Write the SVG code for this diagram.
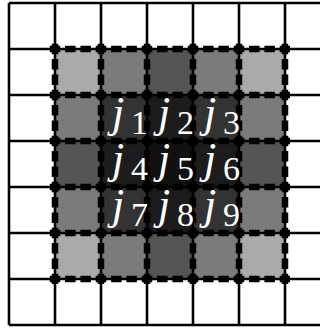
<svg xmlns="http://www.w3.org/2000/svg" width="320" height="328" viewBox="0 0 320 328">
<style>
.grid{stroke:#000;stroke-width:2.6;fill:none}
.dash{stroke:#000;stroke-width:6.5;stroke-dasharray:10.5 4.833;fill:none}
</style>
<rect width="320" height="328" fill="#fff"/>
<g id="cells">
<rect id="c00" x="55" y="49" width="46" height="46" fill="#aaa"/>
<rect id="c01" x="101" y="49" width="46" height="46" fill="#7b7b7b"/>
<rect id="c02" x="147" y="49" width="46" height="46" fill="#555"/>
<rect id="c03" x="193" y="49" width="46" height="46" fill="#7b7b7b"/>
<rect id="c04" x="239" y="49" width="46" height="46" fill="#aaa"/>
<rect id="c10" x="55" y="95" width="46" height="46" fill="#7b7b7b"/>
<rect id="c11" x="101" y="95" width="46" height="46" fill="#333"/>
<rect id="c12" x="147" y="95" width="46" height="46" fill="#1c1c1c"/>
<rect id="c13" x="193" y="95" width="46" height="46" fill="#333"/>
<rect id="c14" x="239" y="95" width="46" height="46" fill="#7b7b7b"/>
<rect id="c20" x="55" y="141" width="46" height="46" fill="#555"/>
<rect id="c21" x="101" y="141" width="46" height="46" fill="#1c1c1c"/>
<rect id="c22" x="147" y="141" width="46" height="46" fill="#111"/>
<rect id="c23" x="193" y="141" width="46" height="46" fill="#1c1c1c"/>
<rect id="c24" x="239" y="141" width="46" height="46" fill="#555"/>
<rect id="c30" x="55" y="187" width="46" height="46" fill="#7b7b7b"/>
<rect id="c31" x="101" y="187" width="46" height="46" fill="#333"/>
<rect id="c32" x="147" y="187" width="46" height="46" fill="#1c1c1c"/>
<rect id="c33" x="193" y="187" width="46" height="46" fill="#333"/>
<rect id="c34" x="239" y="187" width="46" height="46" fill="#7b7b7b"/>
<rect id="c40" x="55" y="233" width="46" height="46" fill="#aaa"/>
<rect id="c41" x="101" y="233" width="46" height="46" fill="#7b7b7b"/>
<rect id="c42" x="147" y="233" width="46" height="46" fill="#555"/>
<rect id="c43" x="193" y="233" width="46" height="46" fill="#7b7b7b"/>
<rect id="c44" x="239" y="233" width="46" height="46" fill="#aaa"/>
</g>
<g id="grid" class="grid">
<path d="M9 3V325M55 3V325M101 3V325M147 3V325M193 3V325M239 3V325M285 3V325"/>
<path d="M9 3H320M9 49H320M9 95H320M9 141H320M9 187H320M9 233H320M9 279H320M9 325H320"/>
</g>
<g id="dashed" class="dash">
<path d="M49.75 49H290M49.75 95H290M49.75 141H290M49.75 187H290M49.75 233H290M49.75 279H290"/>
<path d="M55 43.75V284M101 43.75V284M147 43.75V284M193 43.75V284M239 43.75V284M285 43.75V284"/>
</g>
<g id="labels" font-family="'Liberation Serif', serif" fill="#fff">
<g id="j1"><text x="112" y="127" font-size="44" font-style="italic">j</text><text x="131" y="134" font-size="34">1</text></g>
<g id="j2"><text x="158" y="127" font-size="44" font-style="italic">j</text><text x="177" y="134" font-size="34">2</text></g>
<g id="j3"><text x="204" y="127" font-size="44" font-style="italic">j</text><text x="223" y="134" font-size="34">3</text></g>
<g id="j4"><text x="112" y="173" font-size="44" font-style="italic">j</text><text x="131" y="180" font-size="34">4</text></g>
<g id="j5"><text x="158" y="173" font-size="44" font-style="italic">j</text><text x="177" y="180" font-size="34">5</text></g>
<g id="j6"><text x="204" y="173" font-size="44" font-style="italic">j</text><text x="223" y="180" font-size="34">6</text></g>
<g id="j7"><text x="112" y="219" font-size="44" font-style="italic">j</text><text x="131" y="226" font-size="34">7</text></g>
<g id="j8"><text x="158" y="219" font-size="44" font-style="italic">j</text><text x="177" y="226" font-size="34">8</text></g>
<g id="j9"><text x="204" y="219" font-size="44" font-style="italic">j</text><text x="223" y="226" font-size="34">9</text></g>
</g>
</svg>
